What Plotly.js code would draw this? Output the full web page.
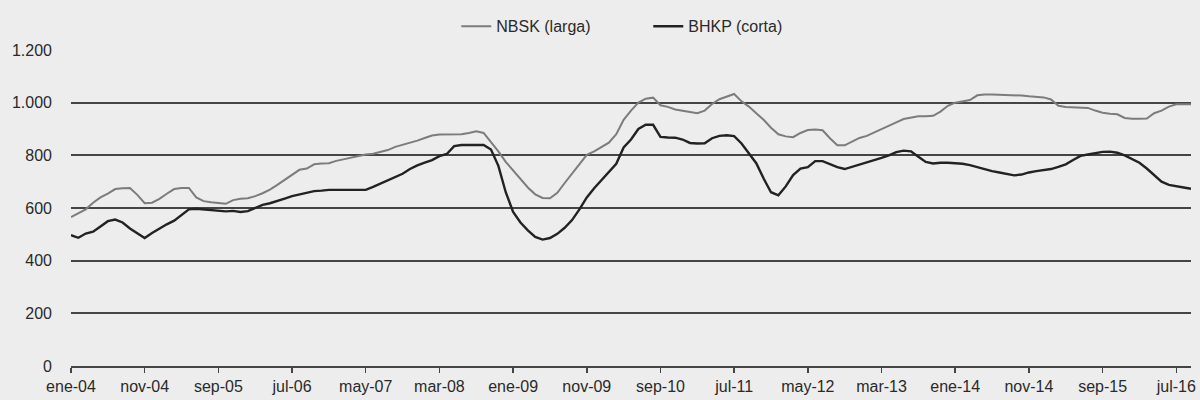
<!DOCTYPE html>
<html>
<head>
<meta charset="utf-8">
<script src="https://cdn.plot.ly/plotly-3.0.1.min.js"></script>
<style>
  html, body { margin: 0; padding: 0; background: #ededed; }
  #chart { width: 1200px; height: 400px; }
</style>
</head>
<body>
<div id="chart"></div>
<script>
// Monthly series, ene-04 .. sep-16 (153 months)
const nbsk = [
  565, 580, 595, 620, 640, 655, 672, 675, 676, 650,
  618, 620, 635, 654, 672, 676, 676, 640, 626, 622,
  618, 616, 630, 635, 637, 645, 656, 670, 688, 708,
  728, 745, 750, 766, 769, 770, 779, 785, 793, 798,
  803, 806, 812, 820, 832, 840, 846, 856, 866, 875,
  879, 879, 879, 880, 885, 891, 885, 850, 815, 775,
  742, 712, 678, 652, 638, 637, 658, 695, 730, 765,
  802, 815, 830, 848, 880, 935, 970, 1000, 1015, 1019,
  990, 984, 974, 970, 966, 960, 970, 995, 1013, 1023,
  1033, 1005, 985, 960, 935, 905, 880, 872, 869, 885,
  896, 898, 895, 865, 838, 838, 852, 866, 874, 886,
  898, 912, 925, 938, 944, 948, 948, 950, 966, 988,
  1000, 1006, 1010, 1028, 1031, 1031, 1030, 1030, 1029, 1027,
  1024, 1022, 1020, 1012, 988, 984, 983, 983, 980, 970,
  962, 958, 956, 942, 939, 939, 940, 960, 970, 985,
  994, 994, 994
];

const bhkp = [
  497, 487, 503, 510, 530, 550, 556, 545, 522, 504,
  486, 505, 522, 538, 552, 572, 595, 597, 594, 591,
  588, 587, 589, 585, 588, 600, 612, 618, 626, 636,
  645, 652, 658, 664, 666, 669, 669, 669, 669, 669,
  669, 680, 692, 704, 718, 730, 748, 762, 772, 782,
  797, 805, 835, 839, 839, 839, 839, 822, 760, 660,
  585, 545, 515, 490, 480, 486, 502, 525, 554, 595,
  640, 675, 705, 738, 768, 830, 860, 900, 916, 916,
  870, 868, 867, 860, 847, 845, 846, 865, 874, 876,
  873, 845, 808, 770, 712, 660, 648, 682, 725, 750,
  755, 778, 778, 766, 755, 748, 756, 765, 773, 782,
  790, 800, 812, 818, 815, 795, 775, 769, 772, 772,
  770, 768, 763, 755, 748, 740, 735, 730, 724, 727,
  735, 740, 745, 748, 756, 766, 782, 798, 803, 808,
  813, 814, 810, 800, 785, 772, 750, 725, 700, 688,
  684, 678, 673
];

const seriesNames = ["NBSK (larga)", "BHKP (corta)"];

const xTickLabels = ["ene-04", "nov-04", "sep-05", "jul-06", "may-07", "mar-08", "ene-09", "nov-09",
                     "sep-10", "jul-11", "may-12", "mar-13", "ene-14", "nov-14", "sep-15", "jul-16"];
const xTickMonths = [0, 10, 20, 30, 40, 50, 60, 70, 80, 90, 100, 110, 120, 130, 140, 150];

const yTickVals = [0, 200, 400, 600, 800, 1000, 1200];
const yTickText = ["0", "200", "400", "600", "800", "1.000", "1.200"];

const monthIdx = nbsk.map((_, i) => i);

const FONT = "'Liberation Sans Narrow', 'Arial Narrow', 'Liberation Sans', Arial, sans-serif";

const traces = [
  {
    x: monthIdx, y: nbsk, name: seriesNames[0], type: "scatter", mode: "lines",
    line: { color: "#7c7c7c", width: 2 }
  },
  {
    x: monthIdx, y: bhkp, name: seriesNames[1], type: "scatter", mode: "lines",
    line: { color: "#222222", width: 2.4 }
  }
];

const layout = {
  width: 1200, height: 400,
  margin: { l: 71, r: 9, t: 44, b: 34 },
  paper_bgcolor: "#ededed",
  plot_bgcolor: "rgba(0,0,0,0)",
  font: { family: FONT, size: 16, color: "#2a2a2a" },
  showlegend: true,
  legend: {
    orientation: "h",
    x: 0.344, xanchor: "left",
    y: 1.075, yanchor: "middle",
    bgcolor: "rgba(0,0,0,0)",
    font: { family: FONT, size: 16, color: "#2a2a2a" },
    itemwidth: 30,
    entrywidth: 147,
    traceorder: "normal"
  },
  xaxis: {
    range: [0, 152],
    tickvals: xTickMonths,
    ticktext: xTickLabels,
    showgrid: false,
    zeroline: false,
    showline: true,
    linecolor: "#444444",
    linewidth: 2,
    ticks: "outside",
    ticklen: 5,
    tickwidth: 1.5,
    tickcolor: "#444444",
    tickfont: { family: FONT, size: 16, color: "#2a2a2a" },
    fixedrange: true
  },
  yaxis: {
    range: [0, 1200],
    tickvals: yTickVals,
    ticktext: yTickText,
    showgrid: true,
    gridcolor: "#444444",
    gridwidth: 2,
    zeroline: false,
    showline: false,
    ticks: "",
    ticklabelstandoff: 18,
    tickfont: { family: FONT, size: 16, color: "#2a2a2a" },
    fixedrange: true
  }
};

Plotly.newPlot("chart", traces, layout, { staticPlot: true, displayModeBar: false });
</script>
</body>
</html>
